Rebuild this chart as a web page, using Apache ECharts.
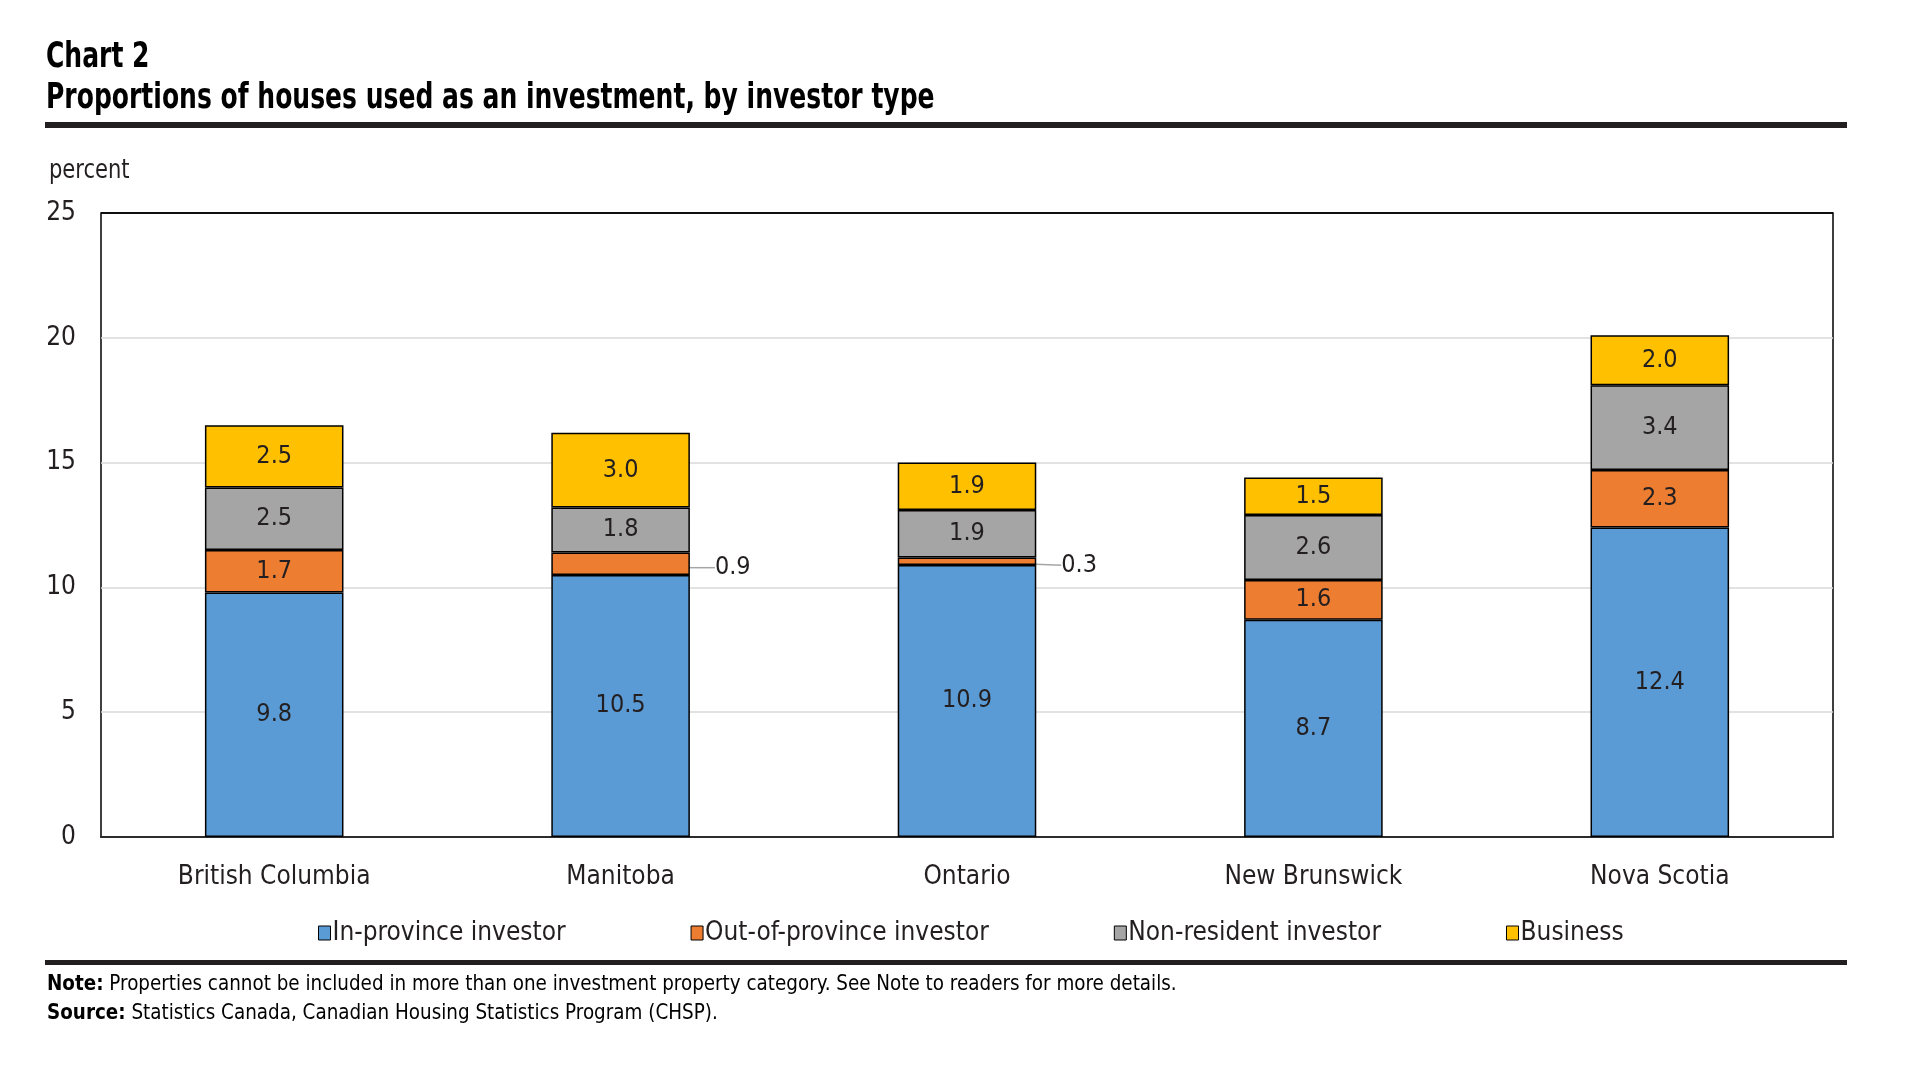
<!DOCTYPE html>
<html>
<head>
<meta charset="utf-8">
<script src="https://cdn.jsdelivr.net/npm/echarts@6/dist/echarts.min.js"></script>
<style>
html,body{margin:0;padding:0;background:#fff;}
#c{width:1926px;height:1076px;}
</style>
</head>
<body>
<div id="c"></div>
<script>
const categories = ['British Columbia', 'Manitoba', 'Ontario', 'New Brunswick', 'Nova Scotia'];
const inProvince = [9.8, 10.5, 10.9, 8.7, 12.4];
const outProvince = [1.7, 0.9, 0.3, 1.6, 2.3];
const nonResident = [2.5, 1.8, 1.9, 2.6, 3.4];
const business = [2.5, 3.0, 1.9, 1.5, 2.0];
const seriesNames = ['In-province investor', 'Out-of-province investor', 'Non-resident investor', 'Business'];
const colors = ['#5B9BD5', '#ED7D31', '#A5A5A5', '#FFC000'];
const yTicks = [0, 5, 10, 15, 20, 25];

const FONT = '"Liberation Sans Narrow", "DejaVu Sans Condensed", "Roboto", sans-serif';
const chart = echarts.init(document.getElementById('c'));

function makeSeries(name, values, color, idx) {
  return {
    name: name,
    type: 'bar',
    stack: 'total',
    barWidth: '40%',
    itemStyle: { color: color, borderColor: '#000', borderWidth: 1.5 },
    label: {
      show: true,
      position: 'inside',
      fontFamily: FONT,
      fontSize: 25,
      color: '#231F20',
      formatter: p => p.value.toFixed(1)
    },
    labelLine: { show: false },
    data: values.map(v => {
      if (idx === 1 && v < 1) {
        return {
          value: v,
          label: { position: 'right', distance: 0 },
          labelLine: { show: true, lineStyle: { color: '#A6A6A6', width: 1.5 } }
        };
      }
      return v;
    }),
    labelLayout: idx === 1 ? function (p) {
      if (outProvince[p.dataIndex] < 1) return { dx: 25, dy: 4 };
      return {};
    } : undefined
  };
}

const splitColors = yTicks.map((t, i) => i === yTicks.length - 1 ? '#000' : '#D9D9D9');

const option = {
  backgroundColor: '#fff',
  animation: false,
  textStyle: { fontFamily: FONT },
  graphic: [
    { type: 'rect', shape: { x: 45, y: 122, width: 1802, height: 6 }, style: { fill: '#231F20' } },
    { type: 'rect', shape: { x: 45, y: 960, width: 1802, height: 5 }, style: { fill: '#231F20' } },
    { type: 'text', x: 46, y: 40, scaleX: 0.795, style: { text: 'Chart 2', fontFamily: FONT, fontWeight: 'bold', fontSize: 35, fill: '#000', textVerticalAlign: 'top' } },
    { type: 'text', x: 46, y: 81, scaleX: 0.795, style: { text: 'Proportions of houses used as an investment, by investor type', fontFamily: FONT, fontWeight: 'bold', fontSize: 35, fill: '#000', textVerticalAlign: 'top' } },
    { type: 'text', x: 49, y: 158, scaleX: 0.9, style: { text: 'percent', fontFamily: FONT, fontSize: 26, fill: '#231F20', textVerticalAlign: 'top' } },
    {
      type: 'text', x: 47, y: 970, scaleX: 0.927,
      style: {
        text: '{b|Note:} Properties cannot be included in more than one investment property category. See Note to readers for more details.\n{b|Source:} Statistics Canada, Canadian Housing Statistics Program (CHSP).',
        fontFamily: FONT, fontSize: 22, fill: '#000', lineHeight: 29, textVerticalAlign: 'top',
        rich: { b: { fontFamily: FONT, fontWeight: 'bold', fontSize: 22, fill: '#000', lineHeight: 29 } }
      }
    }
  ],
  legend: {
    left: 313, top: 915,
    itemWidth: 12, itemHeight: 14, itemGap: 125,
    icon: 'rect',
    textStyle: { fontFamily: FONT, fontSize: 26, color: '#231F20', padding: [0, 0, 0, -3] },
    itemStyle: { borderColor: '#000', borderWidth: 1 },
    data: seriesNames
  },
  grid: {
    left: 101, right: 93, top: 213, bottom: 239,
    show: true, borderColor: '#000', borderWidth: 1.5, backgroundColor: 'transparent'
  },
  xAxis: {
    type: 'category',
    data: categories,
    axisLine: { show: true, lineStyle: { color: '#000', width: 1.5 } },
    axisTick: { show: false },
    axisLabel: { fontFamily: FONT, fontSize: 26, color: '#231F20', margin: 27 }
  },
  yAxis: {
    type: 'value',
    min: yTicks[0], max: yTicks[yTicks.length - 1], interval: 5,
    axisLine: { show: false },
    axisTick: { show: false },
    splitLine: { show: true, lineStyle: { color: splitColors, width: 1.5 } },
    axisLabel: { fontFamily: FONT, fontSize: 26, color: '#231F20', margin: 25 }
  },
  series: [
    makeSeries(seriesNames[0], inProvince, colors[0], 0),
    makeSeries(seriesNames[1], outProvince, colors[1], 1),
    makeSeries(seriesNames[2], nonResident, colors[2], 2),
    makeSeries(seriesNames[3], business, colors[3], 3)
  ]
};
chart.setOption(option);
</script>
</body>
</html>
